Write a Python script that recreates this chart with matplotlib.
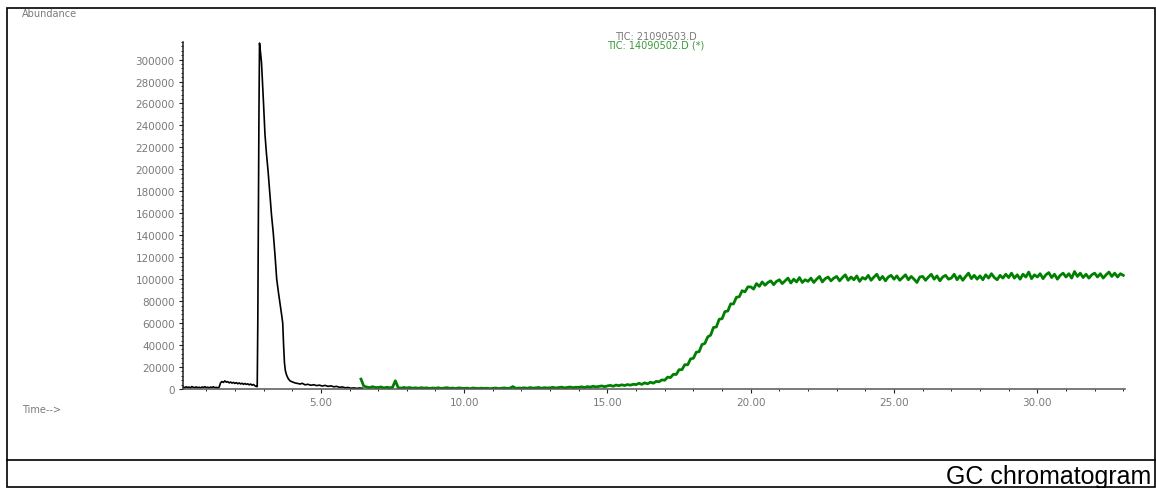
import numpy as np
import matplotlib
matplotlib.use('Agg')
import matplotlib.pyplot as plt
from matplotlib.patches import Rectangle
from matplotlib.lines import Line2D
from matplotlib.ticker import MultipleLocator, FormatStrFormatter

# TIC 21090503.D (black), time in min
black_t = [0.20, 0.25, 0.30, 0.35, 0.40, 0.45, 0.50, 0.55, 0.60, 0.65,
           0.70, 0.75, 0.80, 0.85, 0.90, 0.95, 1.00, 1.05, 1.10, 1.15,
           1.20, 1.25, 1.30, 1.35, 1.40, 1.45,
           1.50, 1.55, 1.60, 1.65, 1.70, 1.75, 1.80, 1.85, 1.90, 1.95,
           2.00, 2.05, 2.10, 2.15, 2.20, 2.25, 2.30, 2.35, 2.40, 2.45,
           2.50, 2.55, 2.60, 2.65, 2.70, 2.75,
           2.78, 2.80, 2.84, 2.86, 2.90, 2.93, 3.00, 3.05, 3.10, 3.16,
           3.22, 3.28, 3.34, 3.40, 3.46, 3.52, 3.58, 3.64, 3.67, 3.70,
           3.73, 3.76, 3.80, 3.86, 3.92, 4.00, 4.10, 4.20, 4.27, 4.35,
           4.45, 4.55, 4.65, 4.75, 4.85, 4.95, 5.05, 5.15, 5.25, 5.35,
           5.45, 5.55, 5.65, 5.75, 5.85, 5.95, 6.05, 6.15, 6.25, 6.35, 6.45]
black_y = [1800, 1200, 2000, 1400, 1700, 1100, 2200, 1500, 1300, 1900,
           1200, 1600, 1000, 1800, 1400, 2100, 1300, 1600, 1100, 1700,
           1400, 2000, 1200, 1500, 1000, 1600,
           5600, 6800, 6000, 7400, 6200, 6700, 5600, 6300, 5400, 6000,
           5100, 5800, 4800, 5500, 4600, 5200, 4300, 5000, 4200, 4700,
           3800, 4500, 3500, 4100, 2900, 2300,
           2200, 60000, 250000, 315000, 305000, 297000, 260000, 232000, 215000, 198000,
           178000, 158000, 142000, 122000, 100000, 88000, 77000, 66000, 60000, 40000,
           24000, 17000, 13000, 9500, 7500, 6500, 5500, 5000, 4500, 5200,
           3800, 4300, 3400, 3900, 3100, 3500, 2700, 3300, 2400, 2900,
           2000, 2400, 1500, 1900, 1100, 1400, 700, 1000, 600, 900, 700]

# TIC 14090502.D (*) (green), sampled every 0.1 min from 6.4 min
green_start = 6.4
green_step = 0.1
green_y = [
    9000, 2500, 1800, 1200, 2100, 1400,
    1300, 1900, 900, 1600, 1100, 1500, 7500, 1200, 800, 1400,
    900, 1300, 700, 1100, 600, 1200, 800, 1000, 500, 900,
    700, 1100, 500, 800, 1200, 600, 900, 400, 1000, 700,
    500, 800, 300, 900, 600, 400, 800, 500, 700, 300,
    600, 900, 400, 700, 1000, 500, 800, 2200, 600, 900,
    700, 1100, 600, 1300, 800, 1000, 1400, 700, 1200, 900,
    1100, 1500, 900, 1300, 1700, 1000, 1400, 1800, 1200, 1600,
    1500, 2000, 1300, 2200, 1700, 2500, 1900, 2300, 2800, 2100,
    2800, 3300, 2500, 3600, 3000, 3800, 3200, 4000, 3500, 4300,
    4000, 5200, 4200, 5600, 4700, 6200, 5300, 6900, 6600, 8300,
    8000, 10800, 10400, 13400, 13200, 17600, 17600, 22200, 22000, 27400,
    28000, 33500, 34000, 40500, 41500, 47500, 49000, 56000, 56500, 63500,
    64000, 70500, 71000, 77500, 77500, 83500, 84000, 89500, 88500, 93000,
    93000, 91000, 96000, 93500, 97500, 94500, 97000, 98500, 95000, 98000,
    99500, 96000, 98500, 101000, 96500, 100000, 97500, 101500, 97000, 99500,
    98000, 101000, 97000, 100000, 102500, 97500, 100500, 102000, 98500, 101000,
    102500, 98500, 101500, 104000, 99000, 102000, 99500, 103000, 98000, 101500,
    100000, 103500, 99000, 102000, 104500, 99500, 102500, 98500, 102000, 103500,
    100000, 103000, 99000, 101500, 104000, 99500, 102500, 100000, 97000, 102000,
    102500, 99000, 102000, 104500, 100000, 103000, 98500, 102000, 103500, 100000,
    101000, 104500, 99500, 103000, 99000, 102500, 105500, 100500, 103500, 100000,
    103000, 99500, 104000, 101000, 105000, 101500, 99500, 103500, 101000, 104500,
    101500, 105500, 101000, 104000, 100000, 104500, 102000, 106500, 100500, 104000,
    102000, 105000, 100500, 104000, 106000, 101500, 104500, 100000, 103500, 105500,
    102000, 105000, 101000, 107000, 102500, 105500, 101500, 104500, 101000, 104000,
    105500, 102000, 105000, 101000, 104000, 106500, 102500, 105500, 102000, 105000,
    103500]

trace_names = ['TIC: 21090503.D', 'TIC: 14090502.D (*)']
caption = 'GC chromatogram'

W, H = 1156, 489


def fx(px):
    return px / W


def fy(py):
    return 1 - py / H


def main():
    fig = plt.figure(figsize=(W / 100, H / 100), dpi=100)
    fig.patch.set_facecolor('white')

    # outer frame + caption divider
    fig.add_artist(Rectangle((fx(7), fy(488)), fx(1155) - fx(7), fy(9) - fy(488),
                             transform=fig.transFigure, fill=False, lw=1.2, color='black'))
    fig.add_artist(Line2D([fx(7), fx(1155)], [fy(461), fy(461)],
                          transform=fig.transFigure, lw=1.2, color='black'))

    ax = fig.add_axes([fx(183), fy(390), fx(1125) - fx(183), fy(43) - fy(390)])

    green_t = green_start + green_step * np.arange(len(green_y))
    ax.plot(black_t, black_y, color='black', lw=1.2)
    ax.plot(green_t, green_y, color='#008000', lw=2.0)

    ax.set_xlim(0.19, 33.06)
    ax.set_ylim(0, 316000)

    for s in ['top', 'right']:
        ax.spines[s].set_visible(False)
    ax.spines['left'].set_color('#222222')
    ax.spines['bottom'].set_color('#555555')
    ax.spines['left'].set_linewidth(1.1)
    ax.spines['bottom'].set_linewidth(1.1)

    ax.xaxis.set_major_locator(MultipleLocator(5))
    ax.xaxis.set_minor_locator(MultipleLocator(1))
    ax.xaxis.set_major_formatter(FormatStrFormatter('%.2f'))
    ax.yaxis.set_major_locator(MultipleLocator(20000))
    ax.yaxis.set_minor_locator(MultipleLocator(4000))
    ax.yaxis.set_major_formatter(FormatStrFormatter('%d'))

    ax.tick_params(which='major', length=3, width=0.8, color='#222222',
                   labelcolor='#7a7a7a', labelsize=7.5, pad=3)
    ax.tick_params(which='minor', length=1.5, width=0.7, color='#222222')

    fig.text(fx(22), fy(14), 'Abundance', fontsize=7, color='#7a7a7a',
             ha='left', va='center')
    fig.text(fx(22), fy(410), 'Time-->', fontsize=7, color='#7a7a7a',
             ha='left', va='center')
    fig.text(fx(656), fy(37), trace_names[0], fontsize=7, color='#7a7a7a',
             ha='center', va='center')
    fig.text(fx(656), fy(46), trace_names[1], fontsize=7, color='#3a9a3a',
             ha='center', va='center')
    fig.text(fx(1151), fy(484), caption, fontsize=18, family='Liberation Sans',
             color='black', ha='right', va='baseline')

    fig.savefig('out.png', dpi=100)


if __name__ == "__main__":
    main()
